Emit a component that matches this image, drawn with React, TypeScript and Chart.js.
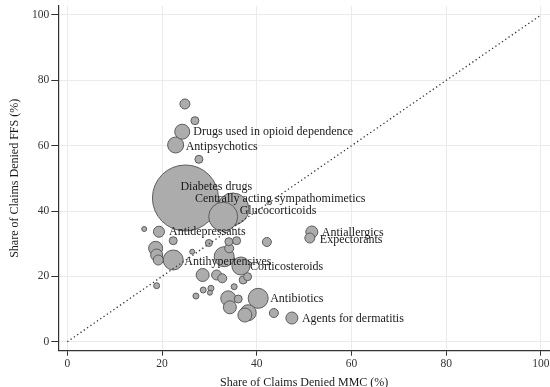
import React, { useEffect, useRef } from 'react';
import { Chart, registerables } from 'chart.js';

Chart.register(...registerables);

// Share of claims denied (%) under MMC (x) and FFS (y), bubble size ~ claim volume
const drugX = [24.83, 26.94, 24.26, 22.87, 27.78, 24.94, 34.96, 32.91, 16.24, 19.35, 22.36, 29.89, 34.11, 35.74, 34.18, 42.13, 26.37, 18.65, 18.86, 19.2, 22.36, 33.12, 36.65, 28.57, 31.52, 32.7, 37.13, 38.06, 18.86, 35.23, 28.69, 30.32, 30.11, 27.15, 33.97, 34.32, 36.08, 40.3, 38.19, 37.49, 43.61, 47.41, 51.62, 51.2];
const drugY = [72.76, 67.65, 64.28, 60.21, 55.83, 43.99, 40.62, 38.26, 34.5, 33.67, 30.92, 30.21, 30.61, 30.92, 28.59, 30.52, 27.55, 28.59, 26.54, 25.01, 25.01, 26.02, 23.17, 20.42, 20.42, 19.41, 18.89, 19.9, 17.14, 16.84, 15.83, 16.35, 15.0, 13.99, 13.28, 10.53, 13.07, 13.28, 8.88, 8.17, 8.78, 7.25, 33.58, 31.74];
const drugSize = [5, 4, 7.5, 8, 4, 33, 16, 14.5, 2.5, 5.5, 4, 3.5, 4, 4, 4.5, 4.5, 2.5, 7, 6, 5, 10, 10, 9, 6.5, 5, 4.5, 4, 4, 3, 3, 3, 3, 2.5, 3, 7.5, 6.5, 4, 10, 8, 7, 4.5, 6, 6, 5];
const drugLabels = ['', '', 'Drugs used in opioid dependence', 'Antipsychotics', '', 'Diabetes drugs', 'Centrally acting sympathomimetics', 'Glucocorticoids', '', 'Antidepressants', '', '', '', '', '', '', '', '', '', '', 'Antihypertensives', '', 'Corticosteroids', '', '', '', '', '', '', '', '', '', '', '', '', '', '', 'Antibiotics', '', '', '', 'Agents for dermatitis', 'Antiallergics', 'Expectorants'];

const diagX = [0, 100];
const diagY = [0, 100];
const xTicks = [0, 20, 40, 60, 80, 100];
const yTicks = [0, 20, 40, 60, 80, 100];
const xTitle = 'Share of Claims Denied MMC (%)';
const yTitle = 'Share of Claims Denied FFS (%)';

const FONT = '"Liberation Serif", "DejaVu Serif", serif';

const labelOffsets: Record<string, [number, number]> = {
  'Drugs used in opioid dependence': [11, 0.5],
  'Antipsychotics': [10, 2],
  'Diabetes drugs': [-5, -11],
  'Centrally acting sympathomimetics': [-38, -10.5],
  'Glucocorticoids': [16.5, -5.5],
  'Antidepressants': [10, 0.5],
  'Antihypertensives': [11, 1.5],
  'Corticosteroids': [9, 1],
  'Antibiotics': [12, 0.7],
  'Agents for dermatitis': [10, 0.7],
  'Antiallergics': [10, 1],
  'Expectorants': [10, 2],
};

const labelPlugin = {
  id: 'bubbleLabels',
  afterDatasetsDraw(chart: any) {
    const ctx = chart.ctx;
    const xs = chart.scales.x;
    const ys = chart.scales.y;
    ctx.save();
    ctx.font = `12px ${FONT}`;
    ctx.fillStyle = '#1a1a1a';
    ctx.textAlign = 'left';
    ctx.textBaseline = 'middle';
    drugLabels.forEach((lab, i) => {
      if (!lab) return;
      const off = labelOffsets[lab] || [10, 0];
      const px = xs.getPixelForValue(drugX[i]);
      const py = ys.getPixelForValue(drugY[i]);
      ctx.fillText(lab, px + off[0], py + off[1]);
    });
    ctx.restore();
  },
};

export default function App() {
  const ref = useRef<HTMLCanvasElement | null>(null);
  useEffect(() => {
    if (!ref.current) return;
    const order = drugX.map((_, i) => i).sort((a, b) => drugSize[b] - drugSize[a]);
    const bubbles = order.map((i) => ({ x: drugX[i], y: drugY[i], r: drugSize[i] }));
    const diag = diagX.map((x, i) => ({ x, y: diagY[i] }));
    const tickFont = { family: FONT, size: 11.5 };
    const titleFont = { family: FONT, size: 12 };
    const chart = new Chart(ref.current, {
      type: 'bubble',
      data: {
        datasets: [
          {
            type: 'line',
            data: diag,
            borderColor: '#333333',
            borderWidth: 1.3,
            borderDash: [1.3, 2.7],
            pointRadius: 0,
            fill: false,
          } as any,
          {
            type: 'bubble',
            data: bubbles,
            backgroundColor: '#acacac',
            borderColor: '#5c5c5c',
            borderWidth: 1,
          } as any,
        ],
      },
      options: {
        animation: false,
        responsive: true,
        maintainAspectRatio: false,
        events: [],
        layout: { autoPadding: false, padding: { top: 6, right: 0, left: 0, bottom: 0 } },
        plugins: { legend: { display: false }, tooltip: { enabled: false } },
        scales: {
          x: {
            type: 'linear',
            min: -1.9,
            max: 101.9,
            afterBuildTicks: (s: any) => { s.ticks = xTicks.map((v) => ({ value: v })); },
            afterFit: (s: any) => { s.height = 41.3; s.paddingLeft = 0; s.paddingRight = 0; },
            grid: { color: '#ebebeb', tickColor: '#333333', tickLength: 5, lineWidth: 1 },
            border: { color: '#333333', width: 1.2 },
            ticks: { font: tickFont, color: '#333333', padding: 1, maxRotation: 0 },
            title: { display: true, text: xTitle, font: titleFont, color: '#1a1a1a', padding: { top: 0, bottom: 2 } },
          },
          y: {
            type: 'linear',
            min: -2.75,
            max: 102.75,
            afterBuildTicks: (s: any) => { s.ticks = yTicks.map((v) => ({ value: v })); },
            afterFit: (s: any) => { s.width = 58.3; s.paddingTop = 0; s.paddingBottom = 0; },
            grid: { color: '#ebebeb', tickColor: '#333333', tickLength: 7, lineWidth: 1 },
            border: { color: '#333333', width: 1.2 },
            ticks: { font: tickFont, color: '#333333', padding: 2 },
            title: { display: true, text: yTitle, font: titleFont, color: '#1a1a1a', padding: { top: 8, bottom: 0 } },
          },
        },
      },
      plugins: [labelPlugin],
    } as any);
    return () => chart.destroy();
  }, []);
  return (
    <div style={{ position: 'fixed', left: 0, top: 0, width: 550, height: 392, background: '#ffffff' }}>
      <canvas ref={ref} />
    </div>
  );
}
